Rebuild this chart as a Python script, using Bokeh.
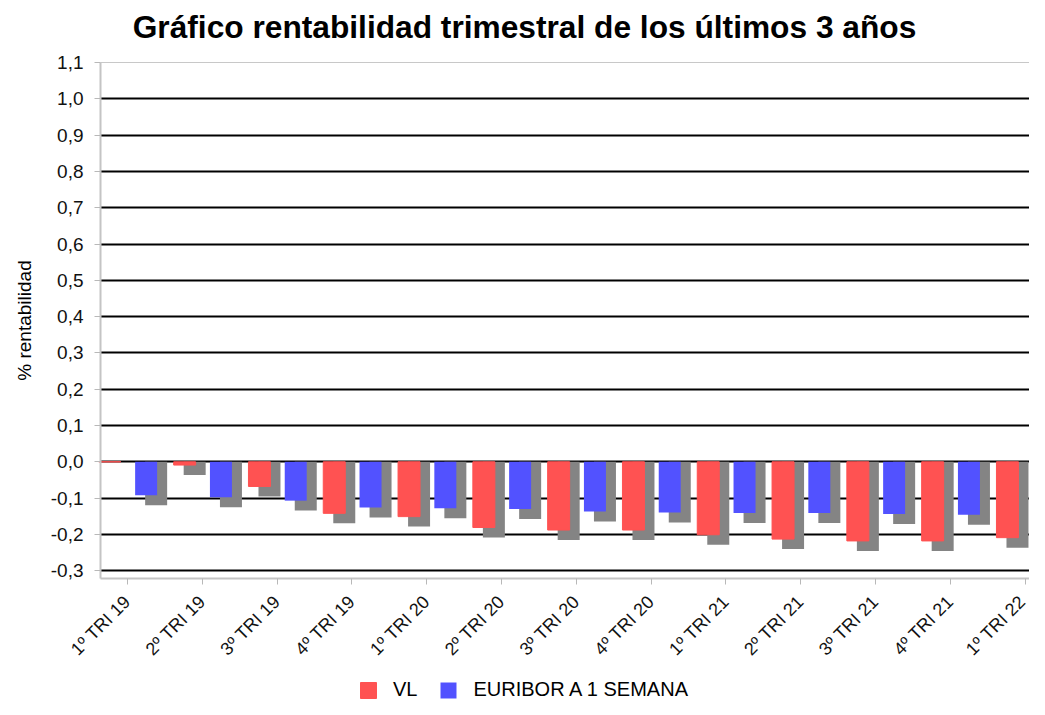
from bokeh.plotting import figure
from bokeh.models import (ColumnDataSource, Range1d, FixedTicker, CustomJSTickFormatter,
                          Legend, LegendItem, Grid, Label)
from bokeh.embed import file_html
from bokeh.resources import INLINE
from bokeh.transform import dodge
from math import pi

# ---- data ----
categories = ["1º TRI 19", "2º TRI 19", "3º TRI 19", "4º TRI 19",
              "1º TRI 20", "2º TRI 20", "3º TRI 20", "4º TRI 20",
              "1º TRI 21", "2º TRI 21", "3º TRI 21", "4º TRI 21",
              "1º TRI 22"]
vl = [0.0, -0.009, -0.068, -0.142, -0.151, -0.181, -0.188, -0.188,
      -0.201, -0.213, -0.218, -0.218, -0.209]
euribor = [-0.092, -0.098, -0.107, -0.126, -0.128, -0.130, -0.137, -0.140,
           -0.141, -0.141, -0.144, -0.146, -0.141]
y_ticks = [-0.3, -0.2, -0.1, 0.0, 0.1, 0.2, 0.3, 0.4, 0.5, 0.6, 0.7, 0.8, 0.9, 1.0, 1.1]
grid_ticks = [-0.3, -0.2, -0.1, 0.0, 0.1, 0.2, 0.3, 0.4, 0.5, 0.6, 0.7, 0.8, 0.9, 1.0]
title_text = "Gráfico rentabilidad trimestral de los últimos 3 años"
y_label_text = "% rentabilidad"

# ---- style / layout ----
RED = "#FF5252"
BLUE = "#5252FF"
SHADOW = "#848484"
AXIS_GRAY = "#c4c4c4"
FONT = "Liberation Sans"
SH_DROP = 0.0275   # shadow drop (value units)
SH_SHIFT = 0.134   # shadow shift (category units)
BAR_W = 0.294

W, H = 1029, 699
PX_PER_CAT = 74.8
PX_PER_UNIT = 363.0
AXIS_LEFT_PX = 100     # where the value axis sits
AXIS_TOP_PX = 62       # top of value axis
X_AXIS_MIN = -0.36
Y_AXIS_MIN = -0.322
Y_AXIS_MAX = 1.1
X_START = X_AXIS_MIN - AXIS_LEFT_PX / PX_PER_CAT
X_END = X_START + W / PX_PER_CAT
Y_END = Y_AXIS_MAX + AXIS_TOP_PX / PX_PER_UNIT
Y_START = Y_END - H / PX_PER_UNIT


def px_x(px):
    return X_START + px / PX_PER_CAT


def px_y(py):
    return Y_END - py / PX_PER_UNIT


def shadow_bottom(vals):
    return [v - SH_DROP if v != 0 else 0.0 for v in vals]


idx = list(range(len(categories)))
src = ColumnDataSource(dict(
    x=idx, vl=vl, eur=euribor,
    vl_sh=shadow_bottom(vl),
    eur_sh=shadow_bottom(euribor),
))

p = figure(width=W, height=H, output_backend="svg", toolbar_location=None,
           x_range=Range1d(X_START, X_END), y_range=Range1d(Y_START, Y_END),
           min_border_left=0, min_border_right=0, min_border_top=0,
           min_border_bottom=0)
p.background_fill_color = "white"
p.border_fill_color = "white"
p.outline_line_color = None
p.title.visible = False

# grid lines (only across the plotting area)
if "cross_bounds" in Grid.properties():
    p.ygrid.ticker = FixedTicker(ticks=grid_ticks)
    p.ygrid.grid_line_color = "#000000"
    p.ygrid.grid_line_width = 2
    p.ygrid.level = "underlay"
    p.ygrid.cross_bounds = (X_AXIS_MIN, X_END)
    top_grid = Grid(dimension=1, ticker=FixedTicker(ticks=[Y_AXIS_MAX]),
                    grid_line_color="#c8c8c8", grid_line_width=1,
                    cross_bounds=(X_AXIS_MIN, X_END), level="underlay")
    p.add_layout(top_grid)
else:
    p.ygrid.visible = False
    p.segment(x0=X_AXIS_MIN, x1=X_END, y0=grid_ticks, y1=grid_ticks,
              line_color="#000000", line_width=2, level="underlay")
    p.segment(x0=X_AXIS_MIN, x1=X_END, y0=[Y_AXIS_MAX], y1=[Y_AXIS_MAX],
              line_color="#c8c8c8", line_width=1, level="underlay")
p.xgrid.visible = False

# shadows
p.vbar(x=dodge("x", -0.235 + SH_SHIFT), top=0, bottom="vl_sh", width=BAR_W,
       source=src, fill_color=SHADOW, line_color=None)
p.vbar(x=dodge("x", 0.25 + SH_SHIFT), top=0, bottom="eur_sh", width=BAR_W,
       source=src, fill_color=SHADOW, line_color=None)
# bars
r_vl = p.vbar(x=dodge("x", -0.235), top=0, bottom="vl", width=BAR_W,
              source=src, fill_color=RED, line_color=RED, line_width=1)
r_eu = p.vbar(x=dodge("x", 0.25), top=0, bottom="eur", width=BAR_W,
              source=src, fill_color=BLUE, line_color=None)

# y axis
p.yaxis.fixed_location = X_AXIS_MIN
p.yaxis.bounds = (Y_AXIS_MIN, Y_AXIS_MAX)
p.yaxis.ticker = FixedTicker(ticks=y_ticks)
p.yaxis.formatter = CustomJSTickFormatter(code="return tick.toFixed(1).replace('.', ',');")
p.yaxis.major_label_text_font = FONT
p.yaxis.major_label_text_font_size = "19px"
p.yaxis.major_label_text_color = "#111111"
p.yaxis.major_label_standoff = 11
p.yaxis.axis_line_color = AXIS_GRAY
p.yaxis.axis_line_width = 2
p.yaxis.major_tick_line_color = "#b8b8b8"
p.yaxis.major_tick_out = 6
p.yaxis.major_tick_in = 0
p.yaxis.minor_tick_line_color = None

# x axis
p.xaxis.fixed_location = Y_AXIS_MIN
p.xaxis.bounds = (X_AXIS_MIN, X_END)
p.xaxis.ticker = FixedTicker(ticks=idx)
p.xaxis.formatter = CustomJSTickFormatter(args=dict(cats=categories),
                                          code="const i = Math.round(tick); return (i >= 0 && i < cats.length) ? cats[i] : '';")
p.xaxis.major_label_orientation = pi / 4
p.xaxis.major_label_text_font = FONT
p.xaxis.major_label_text_font_size = "18px"
p.xaxis.major_label_text_color = "#111111"
p.xaxis.major_label_standoff = 14
p.xaxis.axis_line_color = AXIS_GRAY
p.xaxis.axis_line_width = 2
p.xaxis.major_tick_line_color = "#b8b8b8"
p.xaxis.major_tick_out = 6
p.xaxis.major_tick_in = 0
p.xaxis.minor_tick_line_color = None

# title and value-axis label
p.add_layout(Label(x=px_x(524), y=px_y(26), text=title_text,
                   text_font=FONT, text_font_size="31.7px", text_font_style="bold",
                   text_color="#000000", text_align="center", text_baseline="middle"))
p.add_layout(Label(x=px_x(24), y=px_y(320), text=y_label_text, angle=pi / 2,
                   text_font=FONT, text_font_size="19px", text_color="#000000",
                   text_align="center", text_baseline="middle"))

# legend
legend = Legend(items=[LegendItem(label="VL", renderers=[r_vl]),
                       LegendItem(label="EURIBOR A 1 SEMANA", renderers=[r_eu])],
                orientation="horizontal", location=(358, -2),
                label_text_font=FONT, label_text_font_size="20px",
                label_text_color="#000000",
                glyph_width=20, glyph_height=20, label_standoff=15, spacing=21,
                padding=0, margin=0, border_line_color=None,
                background_fill_alpha=0)
p.add_layout(legend, "center")

open("out.html", "w").write(file_html(p, INLINE))
